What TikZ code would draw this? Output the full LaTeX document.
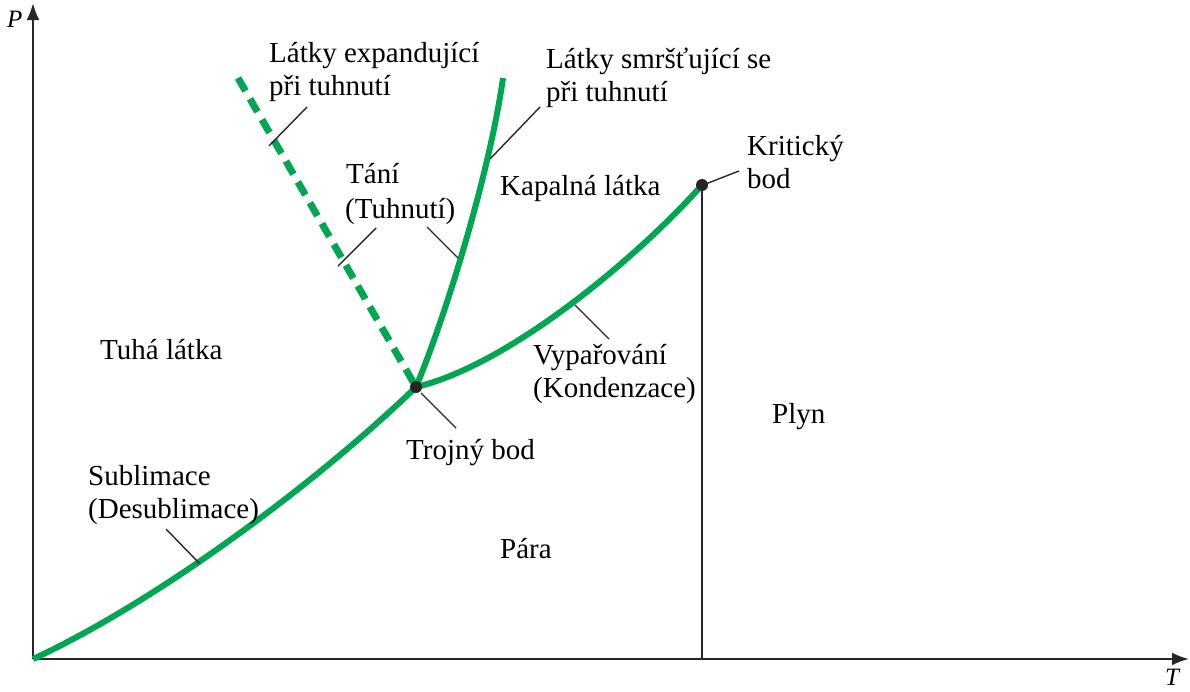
\documentclass[tikz,border=0pt]{standalone}
\usepackage{fontspec}
\setmainfont{Liberation Serif}
\usetikzlibrary{arrows.meta}
\definecolor{phgreen}{RGB}{0,166,81}
\definecolor{ptrgray}{RGB}{40,40,40}
\begin{document}
\begin{tikzpicture}[x=1pt,y=-1pt,
  lbl/.style={anchor=base west,inner sep=0pt,font=\fontsize{29}{35}\selectfont},
  axlbl/.style={anchor=base west,inner sep=0pt,font=\fontsize{25}{30}\selectfont\itshape},
  axis/.style={line width=2.4pt,draw=black!85,-{Latex[length=17pt,width=13pt]}},
  curve/.style={line width=6pt,draw=phgreen},
  dcurve/.style={line width=7pt,draw=phgreen,dash pattern=on 15pt off 9pt},
  ptr/.style={line width=1.4pt,draw=ptrgray},
  dot/.style={circle,fill=black!85,inner sep=0pt,minimum size=12pt}]
\useasboundingbox (0,0) rectangle (1190,691);
% key points
\coordinate (O) at (33,659);
\coordinate (Ytop) at (33,3);
\coordinate (Xend) at (1189,659);
\coordinate (TP) at (416,387);
\coordinate (CP) at (702,185);
\coordinate (CB) at (702,659);
\coordinate (FT) at (503,78);
\coordinate (DT) at (238,78);
% axes
\draw[axis] (O) -- (Ytop);
\draw[axis] (O) -- (Xend);
\node[axlbl] (P) at (7,27) {P};
\node[axlbl] (T) at (1165,685) {T};
% critical vertical line
\draw[line width=1.3pt,draw=black!85] (CP) -- (CB);
% curves
\draw[curve] (O) .. controls (160,600) and (320,480) .. (TP);
\draw[curve] (TP) .. controls (510,365) and (640,255) .. (CP);
\draw[curve] (TP) .. controls (448,310) and (490,170) .. (FT);
\draw[dcurve] (DT) -- (TP);
% dots
\node[dot] (tpdot) at (TP) {};
\node[dot] (cpdot) at (CP) {};
% labels
\node[lbl] (expA) at (269,62) {Látky expandující};
\node[lbl] (expB) at (269,95) {při tuhnutí};
\node[lbl] (smrA) at (546,68) {Látky smršťující se};
\node[lbl] (smrB) at (546,101) {při tuhnutí};
\node[lbl] (kritA) at (747,155) {Kritický};
\node[lbl] (kritB) at (747,188) {bod};
\node[lbl] (taniA) at (346,183) {Tání};
\node[lbl] (taniB) at (345,218) {(Tuhnutí)};
\node[lbl] (kap) at (500,195) {Kapalná látka};
\node[lbl] (tuha) at (100,359) {Tuhá látka};
\node[lbl] (vypA) at (533,364) {Vypařování};
\node[lbl] (vypB) at (533,397) {(Kondenzace)};
\node[lbl] (plyn) at (772,423) {Plyn};
\node[lbl] (troj) at (406,459) {Trojný bod};
\node[lbl] (subA) at (88,485) {Sublimace};
\node[lbl] (subB) at (88,518) {(Desublimace)};
\node[lbl] (para) at (500,558) {Pára};
% pointer ends
\coordinate (e1) at (307,107); \coordinate (e2) at (269,146);
\coordinate (s1) at (540,107); \coordinate (s2) at (490,159);
\coordinate (t1) at (376,228); \coordinate (t2) at (338,266);
\coordinate (u1) at (427,227); \coordinate (u2) at (458,258);
\coordinate (v1) at (575,305); \coordinate (v2) at (609,339);
\coordinate (b1) at (166,529); \coordinate (b2) at (200,564);
\coordinate (r1) at (421,393); \coordinate (r2) at (456,428);
\coordinate (k1) at (739,171); \coordinate (k2) at (703,185);
\draw[ptr] (e1) -- (e2);
\draw[ptr] (s1) -- (s2);
\draw[ptr] (t1) -- (t2);
\draw[ptr] (u1) -- (u2);
\draw[ptr] (v1) -- (v2);
\draw[ptr] (b1) -- (b2);
\draw[ptr] (r1) -- (r2);
\draw[ptr] (k1) -- (k2);
\end{tikzpicture}
\end{document}
